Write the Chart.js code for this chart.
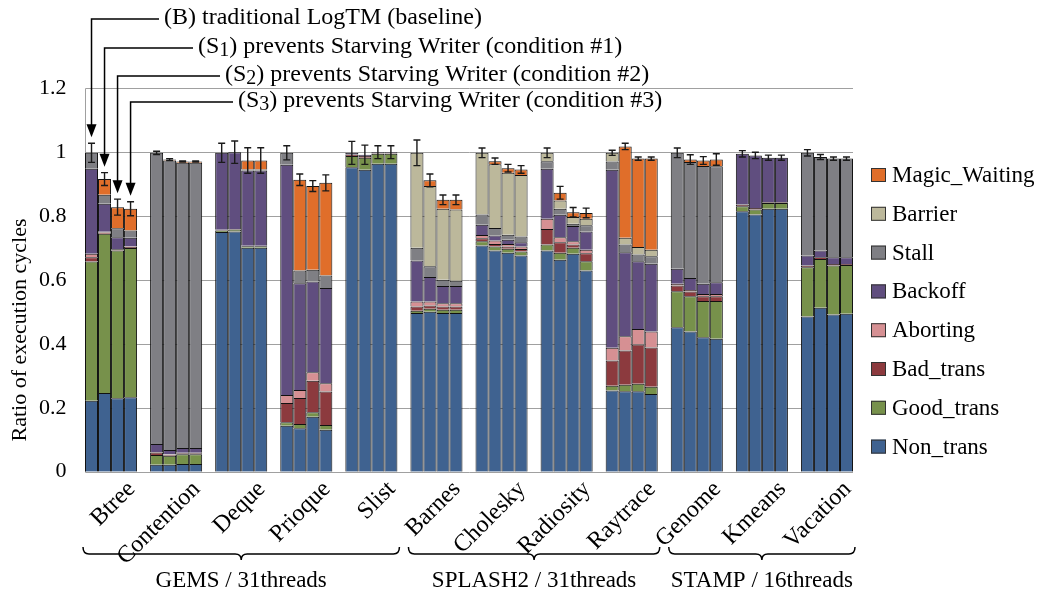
<!DOCTYPE html>
<html>
<head>
<meta charset="utf-8">
<script src="https://cdn.jsdelivr.net/npm/chart.js@4.4.1/dist/chart.umd.min.js"></script>
<style>
  html, body { margin: 0; padding: 0; background: #fff; }
  canvas { display: block; }
</style>
</head>
<body>
<canvas id="chart" width="1042" height="596"></canvas>
<script>
const benchmarks = ['Btree', 'Contention', 'Deque', 'Prioque', 'Slist', 'Barnes', 'Cholesky', 'Radiosity', 'Raytrace', 'Genome', 'Kmeans', 'Vacation'];
const configs = ['B', 'S1', 'S2', 'S3'];

const componentNames = ['Non_trans', 'Good_trans', 'Bad_trans', 'Aborting', 'Backoff', 'Stall', 'Barrier', 'Magic_Waiting'];
const componentColors = ['#3f6290', '#77914b', '#8c3a3e', '#d69093', '#604e7f', '#7f7f84', '#bcb89b', '#e06e2a'];

// each component: one row per config (B, S1, S2, S3), one value per benchmark
const nonTrans = [
  [0.222, 0.022, 0.750, 0.144, 0.953, 0.497, 0.708, 0.692, 0.254, 0.452, 0.815, 0.486],
  [0.246, 0.022, 0.752, 0.136, 0.945, 0.501, 0.692, 0.663, 0.252, 0.439, 0.805, 0.513],
  [0.230, 0.024, 0.701, 0.172, 0.964, 0.497, 0.685, 0.682, 0.252, 0.421, 0.823, 0.492],
  [0.233, 0.024, 0.701, 0.131, 0.964, 0.497, 0.677, 0.630, 0.243, 0.416, 0.823, 0.494]
];
const goodTrans = [
  [0.436, 0.030, 0.005, 0.011, 0.035, 0.007, 0.013, 0.019, 0.015, 0.113, 0.016, 0.154],
  [0.499, 0.028, 0.006, 0.013, 0.038, 0.009, 0.013, 0.022, 0.020, 0.110, 0.016, 0.153],
  [0.462, 0.031, 0.005, 0.014, 0.031, 0.010, 0.013, 0.019, 0.023, 0.113, 0.018, 0.153],
  [0.467, 0.031, 0.005, 0.015, 0.031, 0.010, 0.012, 0.029, 0.023, 0.118, 0.018, 0.153]
];
const badTrans = [
  [0.013, 0.008, 0.002, 0.060, 0.005, 0.013, 0.010, 0.049, 0.079, 0.018, 0.005, 0.005],
  [0.004, 0.003, 0.002, 0.082, 0.005, 0.010, 0.008, 0.033, 0.107, 0.015, 0.004, 0.005],
  [0.004, 0.003, 0.001, 0.099, 0.002, 0.010, 0.007, 0.010, 0.123, 0.015, 0.002, 0.005],
  [0.003, 0.003, 0.001, 0.105, 0.002, 0.010, 0.008, 0.025, 0.123, 0.015, 0.002, 0.003]
];
const aborting = [
  [0.011, 0.002, 0, 0.025, 0, 0.016, 0.010, 0.032, 0.040, 0.005, 0, 0],
  [0.002, 0.002, 0, 0.025, 0, 0.013, 0.011, 0.016, 0.045, 0.005, 0, 0],
  [0.001, 0.001, 0, 0.026, 0, 0.010, 0.008, 0.010, 0.049, 0.007, 0, 0],
  [0.002, 0.001, 0, 0.026, 0, 0.010, 0.008, 0.011, 0.050, 0.007, 0, 0]
];
const backoff = [
  [0.266, 0.025, 0.241, 0.721, 0.005, 0.128, 0.032, 0.156, 0.557, 0.047, 0.159, 0.032],
  [0.088, 0.013, 0.240, 0.334, 0.004, 0.076, 0.015, 0.070, 0.263, 0.037, 0.165, 0.021],
  [0.037, 0.015, 0.236, 0.284, 0.003, 0.054, 0.013, 0.048, 0.212, 0.032, 0.140, 0.021],
  [0.027, 0.015, 0.236, 0.298, 0.003, 0.054, 0.013, 0.057, 0.212, 0.037, 0.140, 0.021]
];
const stall = [
  [0.050, 0.911, 0, 0.037, 0, 0.040, 0.032, 0.024, 0.026, 0.363, 0, 0.321],
  [0.028, 0.906, 0, 0.040, 0, 0.034, 0.024, 0.019, 0.024, 0.363, 0, 0.293],
  [0.028, 0.893, 0.003, 0.037, 0, 0.020, 0.016, 0.007, 0.021, 0.369, 0, 0.309],
  [0.023, 0.893, 0.003, 0.039, 0, 0.017, 0.018, 0.019, 0.023, 0.363, 0, 0.309]
];
const barrier = [
  [0, 0, 0, 0, 0, 0.297, 0.193, 0.026, 0.027, 0, 0, 0],
  [0, 0, 0, 0, 0, 0.251, 0.199, 0.026, 0.021, 0, 0, 0],
  [0, 0, 0, 0, 0, 0.222, 0.194, 0.021, 0.023, 0, 0, 0],
  [0, 0, 0, 0, 0, 0.223, 0.193, 0.021, 0.021, 0, 0, 0]
];
const magicWaiting = [
  [0, 0, 0, 0, 0, 0, 0, 0, 0, 0, 0, 0],
  [0.049, 0.003, 0, 0.284, 0, 0.018, 0.010, 0.024, 0.286, 0.008, 0, 0],
  [0.066, 0.004, 0.028, 0.262, 0, 0.028, 0.014, 0.015, 0.277, 0.017, 0, 0],
  [0.068, 0.004, 0.028, 0.290, 0, 0.030, 0.017, 0.018, 0.285, 0.021, 0, 0]
];
// error bar half widths
const errors = [
  [0.030, 0.005, 0.030, 0.022, 0.036, 0.040, 0.015, 0.015, 0.008, 0.015, 0.010, 0.010],
  [0.020, 0.003, 0.035, 0.018, 0.030, 0.020, 0.010, 0.020, 0.010, 0.015, 0.010, 0.008],
  [0.025, 0.002, 0.040, 0.017, 0.020, 0.015, 0.012, 0.015, 0.005, 0.012, 0.008, 0.005],
  [0.022, 0.002, 0.040, 0.025, 0.020, 0.015, 0.012, 0.015, 0.005, 0.018, 0.008, 0.005]
];

const groupLabels = ['GEMS / 31threads', 'SPLASH2 / 31threads', 'STAMP / 16threads'];
const groupFirst = [0, 5, 9];
const groupLast = [4, 8, 11];

const noteText = [
  ['(B) traditional LogTM (baseline)', '', ''],
  ['(S', '1', ') prevents Starving Writer (condition #1)'],
  ['(S', '2', ') prevents Starving Writer (condition #2)'],
  ['(S', '3', ') prevents Starving Writer (condition #3)']
];

const components = [nonTrans, goodTrans, badTrans, aborting, backoff, stall, barrier, magicWaiting];
const FONT = '"Liberation Serif", "Times New Roman", serif';

const datasets = [];
components.forEach((comp, c) => {
  configs.forEach((cfg, k) => {
    datasets.push({
      label: componentNames[c],
      data: comp[k],
      stack: cfg,
      backgroundColor: componentColors[c],
      borderColor: '#111',
      borderWidth: 1
    });
  });
});

function total(k, i) {
  let s = 0;
  components.forEach(comp => { s += comp[k][i]; });
  return s;
}

const overlay = {
  id: 'overlay',
  beforeDatasetsDraw(chart) {
    const ctx = chart.ctx;
    const y = chart.scales.y;
    const first = chart.getDatasetMeta(0).data[0];
    const last = chart.getDatasetMeta(3).data[benchmarks.length - 1];
    const left = Math.round(first.x - first.width / 2) + 0.5;
    const right = Math.round(last.x + last.width / 2);
    ctx.save();
    ctx.strokeStyle = '#a0a0a0';
    ctx.lineWidth = 1;
    y.ticks.forEach(t => {
      const py = Math.round(y.getPixelForValue(t.value)) + 0.5;
      ctx.beginPath();
      ctx.moveTo(left, py);
      ctx.lineTo(right, py);
      ctx.stroke();
    });
    ctx.beginPath();
    ctx.moveTo(left, Math.round(y.getPixelForValue(0)) + 0.5);
    ctx.lineTo(left, Math.round(y.getPixelForValue(1.2)) + 0.5);
    ctx.stroke();
    ctx.restore();
  },
  afterDatasetsDraw(chart) {
    const ctx = chart.ctx;
    const y = chart.scales.y;
    ctx.save();
    ctx.strokeStyle = '#1a1a1a';
    ctx.lineWidth = 1.4;
    configs.forEach((cfg, k) => {
      const meta = chart.getDatasetMeta(k);
      benchmarks.forEach((b, i) => {
        const x = meta.data[i].x;
        const t = total(k, i);
        const top = y.getPixelForValue(t + errors[k][i]);
        const bot = y.getPixelForValue(t - errors[k][i]);
        ctx.beginPath();
        ctx.moveTo(x, top); ctx.lineTo(x, bot);
        ctx.moveTo(x - 3.5, top); ctx.lineTo(x + 3.5, top);
        ctx.moveTo(x - 3.5, bot); ctx.lineTo(x + 3.5, bot);
        ctx.stroke();
      });
    });
    ctx.restore();
  },
  afterDraw(chart) {
    const ctx = chart.ctx;
    const y = chart.scales.y;
    ctx.save();
    ctx.fillStyle = '#000';
    ctx.strokeStyle = '#000';

    // x labels
    ctx.font = '24px ' + FONT;
    ctx.textAlign = 'right';
    ctx.textBaseline = 'top';
    const base = chart.getDatasetMeta(0).data;
    const lastMeta = chart.getDatasetMeta(3).data;
    benchmarks.forEach((b, i) => {
      const cx = (base[i].x + lastMeta[i].x) / 2;
      ctx.save();
      ctx.translate(cx + 12, 477);
      ctx.rotate(-Math.PI / 4);
      ctx.fillText(b, 0, 0);
      ctx.restore();
    });

    // group braces
    ctx.font = '23px ' + FONT;
    ctx.lineWidth = 1.5;
    ctx.textAlign = 'center';
    ctx.textBaseline = 'middle';
    groupLabels.forEach((g, n) => {
      const a = base[groupFirst[n]];
      const z = lastMeta[groupLast[n]];
      const x0 = a.x - a.width / 2 - 2;
      const x1 = z.x + z.width / 2 + 2;
      const xm = (x0 + x1) / 2;
      const by = 554;
      ctx.beginPath();
      ctx.moveTo(x0, by - 7);
      ctx.quadraticCurveTo(x0, by, x0 + 6, by);
      ctx.lineTo(xm - 6, by);
      ctx.quadraticCurveTo(xm, by, xm, by + 6);
      ctx.quadraticCurveTo(xm, by, xm + 6, by);
      ctx.lineTo(x1 - 6, by);
      ctx.quadraticCurveTo(x1, by, x1, by - 7);
      ctx.stroke();
      ctx.fillText(g, xm, 581);
    });

    // y title
    ctx.font = '22px ' + FONT;
    ctx.save();
    ctx.translate(20, 330);
    ctx.rotate(-Math.PI / 2);
    ctx.fillText('Ratio of execution cycles', 0, 0);
    ctx.restore();

    // legend (top of stack first)
    ctx.font = '23px ' + FONT;
    ctx.textAlign = 'left';
    for (let j = 0; j < componentNames.length; j++) {
      const c = componentNames.length - 1 - j;
      const ly = 175 + j * 38.8;
      ctx.fillStyle = componentColors[c];
      ctx.fillRect(871, ly - 7, 15, 14);
      ctx.strokeStyle = '#333';
      ctx.lineWidth = 1;
      ctx.strokeRect(871.5, ly - 6.5, 14, 13);
      ctx.fillStyle = '#000';
      ctx.fillText(componentNames[c], 892, ly + 1);
    }

    // annotations pointing at the Btree bars
    const lineY = [19, 48, 76, 102];
    const textX = [164, 198, 225, 238];
    ctx.strokeStyle = '#000';
    ctx.lineWidth = 1.5;
    configs.forEach((cfg, k) => {
      const bar = chart.getDatasetMeta(k).data[0];
      const bx = bar.x;
      const tip = y.getPixelForValue(total(k, 0) + errors[k][0]) - 6;
      const ly = lineY[k];
      ctx.beginPath();
      ctx.moveTo(textX[k] - 5, ly);
      ctx.lineTo(bx, ly);
      ctx.lineTo(bx, tip - 10);
      ctx.stroke();
      ctx.beginPath();
      ctx.moveTo(bx - 5, tip - 13);
      ctx.lineTo(bx + 5, tip - 13);
      ctx.lineTo(bx, tip);
      ctx.closePath();
      ctx.fillStyle = '#000';
      ctx.fill();

      const parts = noteText[k];
      let tx = textX[k];
      ctx.font = '24px ' + FONT;
      ctx.fillText(parts[0], tx, ly - 1);
      tx += ctx.measureText(parts[0]).width;
      if (parts[1]) {
        ctx.font = '20px ' + FONT;
        ctx.fillText(parts[1], tx, ly + 3);
        tx += ctx.measureText(parts[1]).width;
        ctx.font = '24px ' + FONT;
        ctx.fillText(parts[2], tx, ly - 1);
      }
    });
    ctx.restore();
  }
};

new Chart(document.getElementById('chart'), {
  type: 'bar',
  data: { labels: benchmarks, datasets: datasets },
  options: {
    responsive: false,
    animation: false,
    devicePixelRatio: 1,
    layout: { padding: { top: 88.3, right: 182.5, bottom: 124.3, left: 0 } },
    datasets: { bar: { categoryPercentage: 0.8, barPercentage: 1 } },
    plugins: { legend: { display: false }, tooltip: { enabled: false } },
    scales: {
      x: { display: false, stacked: true },
      y: {
        stacked: true,
        min: 0,
        max: 1.2,
        ticks: {
          stepSize: 0.2,
          color: '#000',
          padding: 4,
          font: { family: FONT, size: 22 },
          callback: v => String(Math.round(v * 10) / 10)
        },
        grid: { display: false },
        border: { display: false },
        afterFit(scale) { scale.width = 78.5; }
      }
    }
  },
  plugins: [overlay]
});
</script>
</body>
</html>
